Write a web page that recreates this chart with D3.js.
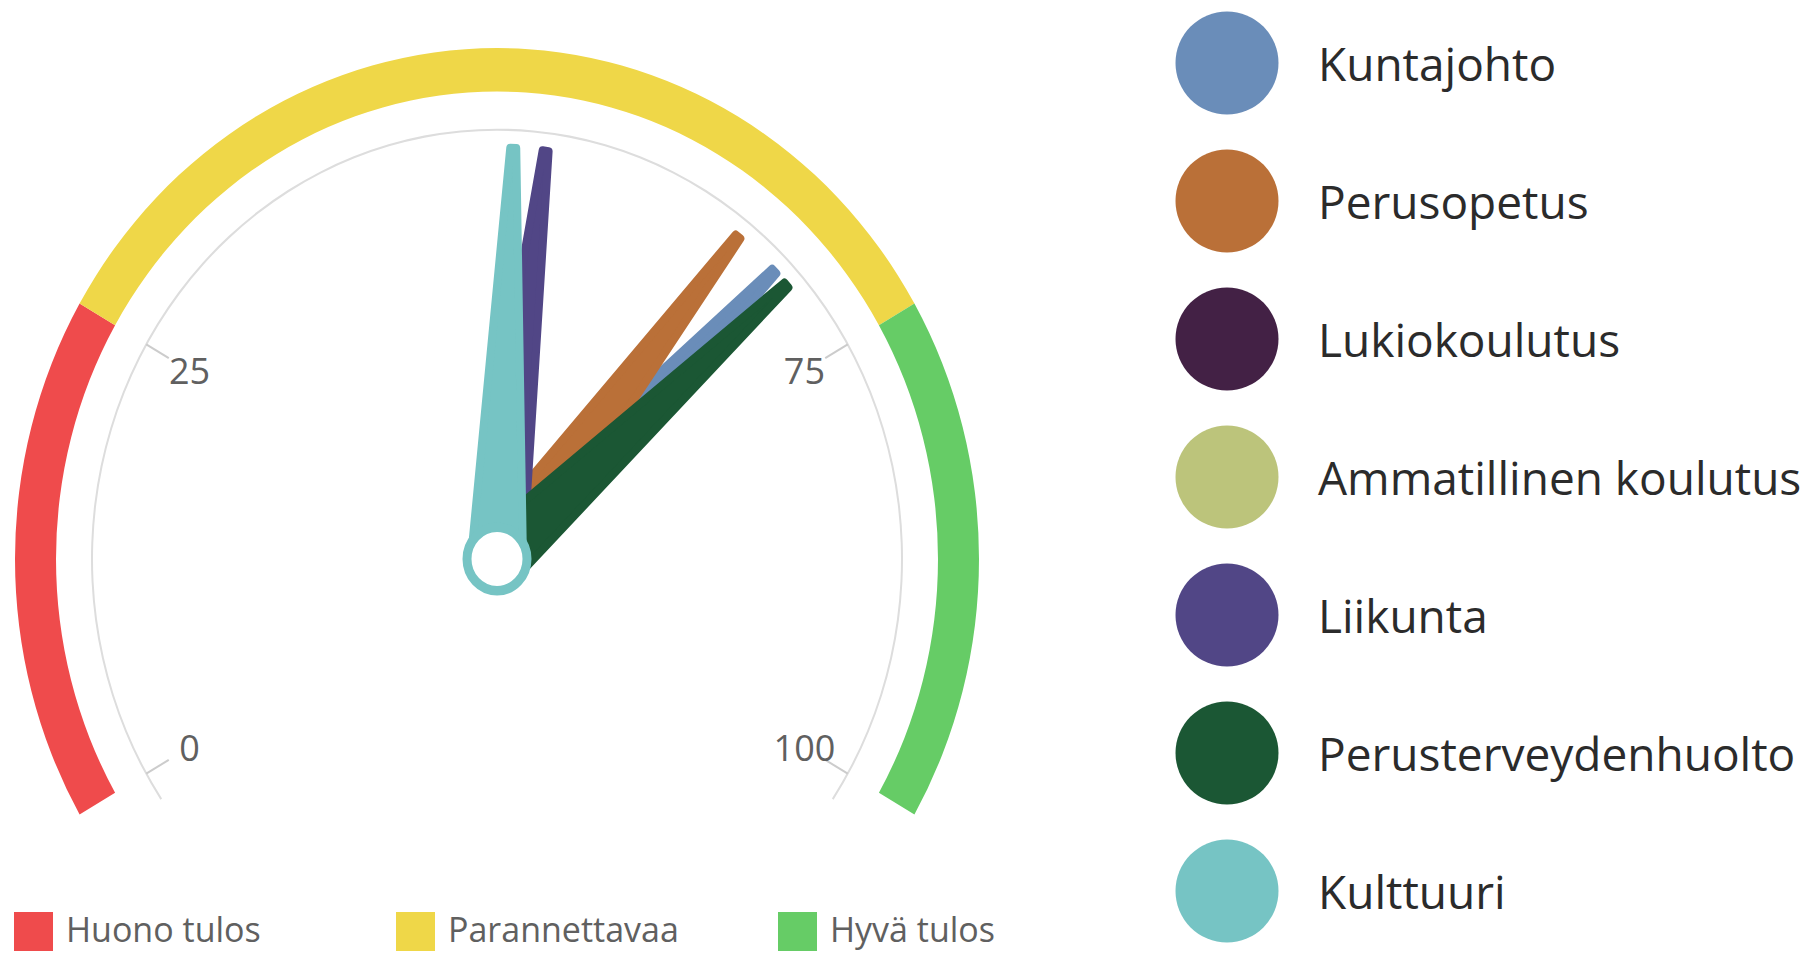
<!DOCTYPE html>
<html>
<head>
<meta charset="utf-8">
<script src="https://cdn.jsdelivr.net/npm/d3@7"></script>
<style>
  body { margin: 0; background: #fff; }
  text { font-family: "Open Sans", "Noto Sans", sans-serif; }
</style>
</head>
<body>
<div id="chart"></div>
<script>
const WIDTH = 1814;
const HEIGHT = 953;

// gauge series (one needle each)
const categories = ["Kuntajohto", "Perusopetus", "Lukiokoulutus", "Ammatillinen koulutus", "Liikunta", "Perusterveydenhuolto", "Kulttuuri"];
const values = [69.0, 66.0, null, null, 53.0, 70.1, 51.0];
const seriesColors = ["#6a8db9", "#ba7038", "#432145", "#bcc47b", "#514686", "#1b5734", "#76c4c4"];

// plot bands
const bandNames = ["Huono tulos", "Parannettavaa", "Hyvä tulos"];
const bandFrom = [0, 25, 75];
const bandTo = [25, 75, 100];
const bandColors = ["#ef4b4c", "#efd748", "#66cc66"];

const tickValues = [0, 25, 75, 100];

const CENTER = { x: 497, y: 559 };
const STRETCH_Y = 1.06;      // the reference gauge is a little taller than wide
const BAND_INNER = 441;
const BAND_OUTER = 482;
const RING_R = 405;
const TICK_LEN = 26;
const LABEL_R = 355;
const NEEDLE_R = 388;
const NEEDLE_BASE = 26;
const NEEDLE_TOP = 3;

const svg = d3.select("#chart")
    .append("svg")
    .attr("width", WIDTH)
    .attr("height", HEIGHT);

const angle = d3.scaleLinear().domain([0, 100]).range([-120, 120]);
const rad = d => angle(d) * Math.PI / 180;

const g = svg.append("g")
    .attr("transform", `translate(${CENTER.x}, ${CENTER.y}) scale(1, ${STRETCH_Y})`);

// axis line
g.append("path")
    .attr("d", d3.arc()
        .innerRadius(RING_R - 1)
        .outerRadius(RING_R + 1)
        .startAngle(-124 * Math.PI / 180)
        .endAngle(124 * Math.PI / 180)())
    .attr("fill", "#dddddd");

// bands
const bandArc = d3.arc().innerRadius(BAND_INNER).outerRadius(BAND_OUTER);
g.selectAll("path.band")
    .data(bandNames.map((name, i) => ({ name, from: bandFrom[i], to: bandTo[i], color: bandColors[i] })))
    .join("path")
    .attr("class", "band")
    .attr("d", d => bandArc({ startAngle: rad(d.from), endAngle: rad(d.to) }))
    .attr("fill", d => d.color);

// ticks
g.selectAll("line.tick")
    .data(tickValues)
    .join("line")
    .attr("class", "tick")
    .attr("x1", d => Math.sin(rad(d)) * RING_R)
    .attr("y1", d => -Math.cos(rad(d)) * RING_R)
    .attr("x2", d => Math.sin(rad(d)) * (RING_R - TICK_LEN))
    .attr("y2", d => -Math.cos(rad(d)) * (RING_R - TICK_LEN))
    .attr("stroke", "#cccccc")
    .attr("stroke-width", 2)
    .attr("vector-effect", "non-scaling-stroke");

// tick labels (kept outside the stretched group so text is not distorted)
svg.selectAll("text.tick-label")
    .data(tickValues)
    .join("text")
    .attr("class", "tick-label")
    .attr("x", d => CENTER.x + Math.sin(rad(d)) * LABEL_R)
    .attr("y", d => CENTER.y - Math.cos(rad(d)) * LABEL_R * STRETCH_Y)
    .attr("text-anchor", "middle")
    .attr("dominant-baseline", "central")
    .style("font-size", "36px")
    .style("fill", "#606060")
    .text(d => d);

// needles
const needleLine = d3.line();
const needlePoints = v => {
    const a = rad(v);
    const u = [Math.sin(a), -Math.cos(a)];
    const p = [Math.cos(a), Math.sin(a)];
    return [
        [-p[0] * NEEDLE_BASE, -p[1] * NEEDLE_BASE],
        [u[0] * NEEDLE_R - p[0] * NEEDLE_TOP, u[1] * NEEDLE_R - p[1] * NEEDLE_TOP],
        [u[0] * NEEDLE_R + p[0] * NEEDLE_TOP, u[1] * NEEDLE_R + p[1] * NEEDLE_TOP],
        [p[0] * NEEDLE_BASE, p[1] * NEEDLE_BASE]
    ];
};

const series = categories.map((name, i) => ({ name, value: values[i], color: seriesColors[i] }));

g.selectAll("path.needle")
    .data(series.filter(d => d.value !== null))
    .join("path")
    .attr("class", "needle")
    .attr("d", d => needleLine(needlePoints(d.value)) + "Z")
    .attr("fill", d => d.color)
    .attr("stroke", d => d.color)
    .attr("stroke-width", 8)
    .attr("stroke-linejoin", "round");

// pivot of the last drawn series
const lastSeries = series.filter(d => d.value !== null).slice(-1)[0];
g.append("circle")
    .attr("r", 30)
    .attr("fill", "#ffffff")
    .attr("stroke", lastSeries.color)
    .attr("stroke-width", 9);

// band legend (bottom)
const bandLegend = svg.selectAll("g.band-legend")
    .data(bandNames)
    .join("g")
    .attr("class", "band-legend")
    .attr("transform", (d, i) => `translate(${14 + i * 382}, 912)`);

bandLegend.append("rect")
    .attr("width", 39)
    .attr("height", 39)
    .attr("fill", (d, i) => bandColors[i]);

bandLegend.append("text")
    .attr("x", 52)
    .attr("y", 30)
    .style("font-size", "34px")
    .style("fill", "#606060")
    .text(d => d);

// series legend (right)
const seriesLegend = svg.selectAll("g.series-legend")
    .data(series)
    .join("g")
    .attr("class", "series-legend")
    .attr("transform", (d, i) => `translate(1227, ${63 + i * 138})`);

seriesLegend.append("circle")
    .attr("r", 51.5)
    .attr("fill", d => d.color);

seriesLegend.append("text")
    .attr("x", 91)
    .attr("y", 0)
    .attr("dominant-baseline", "central")
    .style("font-size", "46px")
    .style("fill", "#2b2b2b")
    .text(d => d.name);
</script>
</body>
</html>
